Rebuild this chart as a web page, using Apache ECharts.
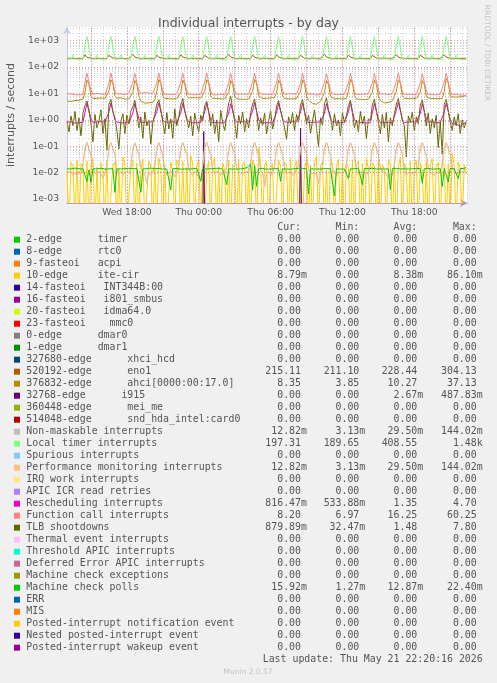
<!DOCTYPE html>
<html><head><meta charset="utf-8">
<script src="https://cdn.jsdelivr.net/npm/echarts@6/dist/echarts.min.js"></script>
<style>html,body{margin:0;padding:0;background:#f0f0f0;}#c{width:497px;height:683px;}</style>
</head><body><div id="c"></div>
<script>
// ---- time base: samples every 10 minutes from Wed 13:00 (hours since Wed 00:00)
const START_HOUR = 13;
const STEP_HOUR = 1 / 6;
const xTickHours = [18, 24, 30, 36, 42];
const xTickLabels = ['Wed 18:00', 'Thu 00:00', 'Thu 06:00', 'Thu 12:00', 'Thu 18:00'];

// ---- series values (per sample)
const localTimer = [
200,198,201,290,199,202,200,197,201,680,1430,1410,
206,200,199,286,201,198,202,199,200,700,1450,1400,
204,199,201,288,200,197,201,200,198,650,1440,1420,
205,200,198,282,199,201,200,202,199,710,1470,1430,
203,201,199,290,200,198,201,199,200,690,1450,1410,
206,199,200,285,201,200,198,201,199,700,1460,1420,
204,200,201,287,199,202,200,198,201,680,1440,1400,
205,198,200,291,200,199,201,200,198,720,1480,1430,
203,201,199,284,202,200,199,201,200,690,1450,1410,
206,199,201,288,200,198,200,199,202,700,1460,1420,
204,200,198,286,201,200,202,200,199,670,1440,1400,
205,201,200,289,199,201,198,201,200,710,1470,1430,
203,199,201,283,200,199,201,200,198,690,1450,1410,
206,200,199,290,201,202,200,199,201,700,1460,1420,
204,198,200,285,199,200,201,200,199,680,1440,1400,
205,201,199,288,200,198,200,202,200,720,1470,1425,
204,199,200,286,201,199,197,198,197.3];

const eno1 = [
214,213,216,218,213,215,214,213,215,288,236,221,
216,214,213,219,215,213,214,216,213,278,240,220,
215,213,214,217,213,214,215,213,214,300,238,222,
214,215,213,218,214,213,216,214,213,282,236,219,
216,213,214,219,215,214,213,215,214,290,241,221,
215,214,213,217,213,215,214,213,216,276,235,220,
214,213,215,218,214,213,215,214,213,295,239,222,
216,215,213,219,213,214,213,216,214,284,237,220,
215,213,214,217,215,213,214,213,215,292,240,221,
214,214,213,218,213,215,216,214,213,280,236,219,
216,213,215,219,214,213,214,215,214,304,241,222,
215,214,213,217,213,214,215,213,216,286,238,220,
214,213,214,218,215,213,214,216,213,278,235,221,
216,215,213,219,213,214,213,214,215,294,240,222,
215,213,214,217,214,215,216,213,214,282,237,220,
214,214,213,218,213,213,214,215,213,290,239,221,
215,213,214,217,214,213,215,214,215.1];

const ahci = [
5.2,5.6,5.0,5.8,5.4,6.0,5.5,5.9,6.2,11,32,23,
8.0,6.4,6.0,6.6,6.2,6.8,6.1,6.5,6.3,12,33,24,
8.2,6.6,6.2,6.9,6.4,6.1,6.7,6.3,6.5,11,31,22,
7.8,5.2,4.6,4.3,4.8,4.4,5.0,4.6,5.8,12,34,24,
8.1,6.5,6.9,6.3,6.7,6.2,6.8,6.4,6.6,11,32,23,
8.3,6.8,6.4,7.0,6.5,6.9,6.3,6.7,6.4,12,33,25,
8.0,6.6,7.1,6.5,6.9,6.3,6.8,6.2,6.7,11,31,22,
7.9,6.3,6.7,6.1,6.6,6.0,6.5,6.2,6.4,12,34,24,
8.2,6.9,6.4,7.0,6.6,7.2,6.8,6.5,6.9,11,32,23,
8.1,6.4,6.8,6.2,6.7,6.3,6.9,6.5,6.6,12,33,24,
8.0,5.6,4.8,4.2,4.5,3.9,4.6,5.2,6.0,11,31,22,
7.8,6.7,6.3,6.9,6.4,6.8,6.2,6.6,6.5,12,34,25,
8.3,6.2,6.6,6.0,6.5,5.9,6.4,6.1,6.3,11,32,23,
8.0,5.4,4.9,4.4,4.1,4.5,4.8,5.3,6.1,12,33,24,
8.2,6.5,6.9,6.3,6.8,6.4,7.0,6.6,6.7,11,31,22,
7.9,6.8,6.4,7.0,6.5,6.9,6.3,6.7,6.6,12,37,25,
8.1,6.9,7.2,6.8,7.4,7.1,7.6,7.9,8.35];

const funcCall = [
9.4,9.1,9.8,10.2,9.0,9.6,8.8,9.5,9.2,26,58,50,
13,9.6,9.3,10.0,9.1,9.7,9.4,8.9,9.6,24,60,52,
12,9.8,10.4,9.6,10.1,9.2,9.9,10.3,9.5,27,57,49,
13,10.2,9.6,10.8,9.9,10.5,9.7,10.1,9.4,25,59,51,
12,9.5,9.9,9.2,9.7,9.0,9.4,9.8,9.1,26,58,50,
13,9.3,9.7,9.1,9.5,8.9,9.6,9.2,9.8,28,60,53,
12,9.0,9.4,8.8,9.2,9.6,9.1,8.7,9.3,25,57,48,
13,9.2,9.8,9.4,9.0,9.5,8.9,9.3,9.7,27,59,51,
12,9.6,9.1,9.5,8.9,9.3,9.7,9.0,9.4,26,58,50,
13,9.1,9.5,9.8,9.2,9.6,9.0,9.4,9.9,24,60,52,
12,9.4,9.0,9.6,9.3,8.8,9.5,9.1,9.7,27,57,49,
13,9.7,9.3,9.0,9.6,9.2,9.8,9.4,9.1,25,59,51,
12,9.2,9.6,9.3,8.9,9.5,9.1,9.7,9.2,26,58,50,
13,9.5,9.1,9.7,9.3,9.0,9.4,9.8,9.3,28,60,52,
12,9.3,9.7,9.2,9.6,9.1,9.5,8.9,9.4,25,57,49,
13,9.0,9.4,9.1,9.5,8.8,9.2,9.6,9.0,27,59,51,
12,9.2,8.9,9.4,9.0,8.6,9.1,8.7,8.2];

const resched = [
0.82,0.78,0.85,0.80,0.76,0.84,0.79,0.83,0.81,1.9,4.2,4.0,
1.1,0.80,0.77,0.84,0.79,0.86,0.78,0.82,0.80,2.0,4.3,4.1,
1.0,0.83,0.79,0.76,0.82,0.78,0.85,0.80,0.77,1.8,4.1,3.9,
1.1,0.79,0.84,0.81,0.77,0.83,0.78,0.86,0.80,2.1,4.4,4.2,
1.0,0.81,0.76,0.83,0.79,0.85,0.80,0.78,0.82,1.9,4.2,4.0,
1.1,0.84,0.80,0.77,0.83,0.79,0.86,0.81,0.78,2.0,4.3,4.1,
1.0,0.78,0.83,0.80,0.85,0.77,0.82,0.79,0.84,1.8,4.1,3.9,
1.1,0.82,0.79,0.86,0.80,0.84,0.78,0.83,0.81,2.2,4.5,4.3,
1.0,0.80,0.85,0.78,0.82,0.79,0.84,0.77,0.83,1.9,4.2,4.0,
1.1,0.83,0.77,0.81,0.79,0.86,0.80,0.84,0.78,2.0,4.3,4.1,
1.0,0.79,0.84,0.80,0.76,0.82,0.78,0.85,0.81,1.8,4.1,3.9,
1.1,0.81,0.78,0.83,0.80,0.77,0.84,0.79,0.82,2.1,4.4,4.2,
1.0,0.84,0.80,0.86,0.79,0.83,0.77,0.81,0.78,1.9,4.2,4.0,
1.1,0.78,0.82,0.79,0.84,0.80,0.85,0.78,0.83,2.3,4.7,4.5,
1.0,0.80,0.76,0.82,0.78,0.84,0.79,0.83,0.80,1.8,4.1,3.9,
1.1,0.82,0.79,0.85,0.81,0.78,0.83,0.80,0.84,2.0,4.3,4.1,
1.0,0.72,0.65,0.70,0.62,0.55,0.66,0.60,0.82];

const tlb = [
0.9,0.35,1.4,0.6,2.1,0.4,1.2,0.25,1.8,3.5,5.2,2.4,
0.7,0.15,1.6,0.5,0.9,2.4,0.3,1.1,0.07,3.8,6.0,2.0,
1.2,0.4,0.08,0.9,1.7,0.3,1.5,0.7,2.2,3.2,5.5,1.8,
0.5,1.3,0.2,2.0,0.6,1.0,0.12,0.8,1.6,4.0,5.8,2.5,
0.8,0.3,1.9,0.45,1.1,0.2,2.6,0.6,1.3,3.6,6.5,2.2,
1.0,0.5,1.4,0.25,1.8,0.7,0.35,1.5,0.9,3.4,5.0,1.9,
0.6,1.7,0.3,1.0,0.15,2.3,0.8,0.4,1.4,4.2,7.8,2.6,
0.9,0.2,1.5,0.7,2.0,0.35,1.1,0.5,1.9,3.9,6.2,2.1,
0.4,1.2,0.6,1.8,0.3,0.9,2.2,0.45,1.0,3.3,5.4,2.3,
1.1,0.5,0.18,1.3,0.7,1.9,0.4,1.6,0.8,3.7,5.9,2.0,
0.7,1.5,0.3,0.9,2.4,0.5,0.1,1.2,0.6,4.1,6.8,2.4,
1.3,0.4,1.7,0.6,1.0,0.25,1.8,0.8,1.4,3.5,5.6,1.8,
0.5,1.0,0.35,2.1,0.7,1.4,0.2,1.1,0.9,3.8,6.1,2.2,
0.8,0.3,1.6,0.5,1.9,0.15,1.2,0.6,1.7,4.0,6.4,2.5,
1.0,0.6,0.04,1.4,0.8,2.0,0.4,1.3,0.7,3.6,5.7,2.1,
0.6,1.8,0.3,1.1,0.5,1.5,0.09,0.9,0.05,3.9,6.0,2.3,
0.8,0.4,1.3,0.6,1.7,0.3,1.0,0.5,0.88];

const perfMon = [
0.010,0.009,0.011,0.008,0.010,0.007,0.011,0.009,0.018,0.085,0.140,0.125,
0.045,0.014,0.010,0.008,0.011,0.009,0.006,0.010,0.019,0.090,0.138,0.130,
0.048,0.013,0.009,0.011,0.008,0.010,0.012,0.009,0.017,0.080,0.135,0.120,
0.050,0.015,0.011,0.009,0.004,0.010,0.008,0.011,0.020,0.088,0.142,0.128,
0.046,0.012,0.008,0.010,0.009,0.011,0.007,0.010,0.018,0.086,0.139,0.126,
0.049,0.014,0.010,0.008,0.011,0.009,0.010,0.005,0.019,0.092,0.144,0.131,
0.047,0.013,0.009,0.011,0.010,0.008,0.011,0.009,0.017,0.083,0.136,0.122,
0.051,0.015,0.011,0.009,0.008,0.010,0.009,0.011,0.020,0.089,0.141,0.127,
0.045,0.012,0.010,0.003,0.009,0.011,0.008,0.010,0.018,0.087,0.139,0.125,
0.048,0.014,0.009,0.010,0.011,0.008,0.010,0.009,0.019,0.084,0.137,0.124,
0.050,0.013,0.011,0.009,0.010,0.009,0.004,0.010,0.017,0.090,0.143,0.129,
0.046,0.015,0.010,0.008,0.011,0.010,0.009,0.011,0.020,0.086,0.138,0.126,
0.049,0.012,0.009,0.011,0.008,0.010,0.011,0.009,0.018,0.088,0.140,0.128,
0.047,0.014,0.011,0.010,0.009,0.006,0.010,0.008,0.019,0.085,0.136,0.123,
0.051,0.013,0.008,0.010,0.011,0.009,0.010,0.011,0.017,0.091,0.142,0.130,
0.045,0.015,0.010,0.009,0.008,0.011,0.009,0.010,0.018,0.087,0.139,0.125,
0.048,0.014,0.011,0.009,0.010,0.012,0.010,0.011,0.0128];
const nmi = perfMon; // identical readings (Cur/Min/Avg/Max match)

const mcPolls = [
.0140,.0145,.0138,.0142,.0150,.0136,.0141,.0147,.0139,.0133,.0047,.0128,
.0042,.0138,.0146,.0140,.0135,.0148,.0141,.0137,.0144,.0139,.0136,.0143,
.0018,.0140,.0145,.0138,.0150,.0142,.0136,.0147,.0139,.0141,.0137,.0144,
.0140,.0018,.0139,.0146,.0141,.0135,.0149,.0138,.0142,.0137,.0145,.0140,
.0136,.0143,.0139,.0147,.0022,.0141,.0138,.0145,.0140,.0136,.0144,.0139,
.0142,.0137,.0146,.0140,.0135,.0148,.0141,.0047,.0139,.0144,.0138,.0143,
.0140,.0136,.0145,.0139,.0147,.0141,.0137,.0143,.0035,.0140,.0146,.0138,
.0142,.0137,.0148,.0140,.0136,.0145,.0139,.0170,.0224,.0022,.0190,.0030,
.0141,.0138,.0146,.0140,.0135,.0144,.0139,.0147,.0141,.0137,.0143,.0047,
.0140,.0146,.0138,.0142,.0136,.0149,.0141,.0137,.0145,.0139,.0143,.0138,
.0141,.0016,.0140,.0146,.0138,.0143,.0137,.0145,.0140,.0136,.0144,.0139,
.0142,.0137,.0013,.0140,.0146,.0138,.0143,.0137,.0145,.0060,.0139,.0144,
.0141,.0138,.0147,.0140,.0035,.0145,.0139,.0143,.0137,.0146,.0140,.0138,
.0144,.0139,.0141,.0137,.0145,.0140,.0022,.0143,.0139,.0146,.0140,.0138,
.0145,.0139,.0142,.0137,.0146,.0141,.0136,.0144,.0139,.0143,.0040,.0142,
.0138,.0145,.0140,.0136,.0143,.0139,.0146,.0141,.0030,.0145,.0140,.0045,
.0144,.0139,.0141,.0137,.0060,.0142,.0138,.0146,.0159];

const iteCir = [
0.012,0,0.025,0.018,0,0.03,0,0.022,0.015,0,0.028,0,0.02,0.035,0,0.016,0,0.024,0.011,0,
0.03,0,0,0.019,0.026,0,0.014,0,0.04,0.021,0,0,0.017,0.029,0,0.023,0,0.013,0.033,0,
0,0.027,0.018,0,0.022,0,0.036,0.015,0,0.02,0,0,0.025,0.012,0,0.031,0.019,0,0.028,0,
0.016,0,0.045,0.022,0,0.018,0.03,0,0.024,0,0.014,0.027,0,0.02,0.038,0,0.017,0,0.023,0.012,
0,0.029,0,0.02,0.016,0,0.033,0,0.021,0.026,0,0.015,0,0.03,0.019,0,0.086,0.024,0,0.018,
0.027,0,0.013,0.022,0,0,0.031,0.017,0,0.025,0.02,0,0.035,0,0.016,0.028,0,0.021,0,0.014,
0.03,0,0.019,0,0.024,0.042,0,0.018,0.026,0,0.013,0,0.029,0.022,0,0.017,0.033,0,0.02,0,
0.025,0.015,0,0.031,0,0.019,0.027,0,0.022,0,0.036,0.014,0,0.024,0.018,0,0.029,0,0.021,0.013,
0,0.032,0.02,0,0.026,0,0.017,0.038,0,0.023,0.015,0,0.028,0,0.019,0.03,0,0.024,0.012,0,
0.027,0,0.02,0.034,0,0.016,0.025,0,0.03,0.018,0,0.022,0,0.055,0.017,0,0.026,0.014,0,0.02,0.0088];

// i915: [hour, value] readings around its only two bursts (zero elsewhere)
const i915 = [[13,0],[24.333,0],[24.417,0.36],[24.5,0],[32.417,0],[32.5,0.488],[32.583,0],[46.333,0]];

// ---- legend table
const legendLabels = [
'2-edge      timer','8-edge      rtc0','9-fasteoi   acpi','10-edge     ite-cir',
'14-fasteoi   INT344B:00','16-fasteoi   i801_smbus','20-fasteoi   idma64.0','23-fasteoi    mmc0',
'0-edge      dmar0','1-edge      dmar1','327680-edge      xhci_hcd','520192-edge      eno1',
'376832-edge      ahci[0000:00:17.0]','32768-edge      i915','360448-edge      mei_me',
'514048-edge      snd_hda_intel:card0','Non-maskable interrupts','Local timer interrupts',
'Spurious interrupts','Performance monitoring interrupts','IRQ work interrupts',
'APIC ICR read retries','Rescheduling interrupts','Function call interrupts','TLB shootdowns',
'Thermal event interrupts','Threshold APIC interrupts','Deferred Error APIC interrupts',
'Machine check exceptions','Machine check polls','ERR','MIS',
'Posted-interrupt notification event','Nested posted-interrupt event','Posted-interrupt wakeup event'];
const legendColors = [
'#00CC00','#0066B3','#FF8000','#FFCC00','#330099','#990099','#CCFF00','#FF0000',
'#808080','#008F00','#00487D','#B35A00','#B38F00','#6B006B','#8FB300','#B30000',
'#BEBEBE','#80FF80','#80C9FF','#FFC080','#FFE680','#AA80FF','#EE00CC','#FF8080',
'#666600','#FFBFFF','#00FFCC','#CC6699','#999900','#00CC00','#0066B3','#FF8000',
'#FFCC00','#330099','#990099'];
const Z = '0.00';
const curVals = [Z,Z,Z,'8.79m',Z,Z,Z,Z,Z,Z,Z,'215.11','8.35',Z,Z,Z,'12.82m','197.31',Z,'12.82m',Z,Z,'816.47m','8.20','879.89m',Z,Z,Z,Z,'15.92m',Z,Z,Z,Z,Z];
const minVals = [Z,Z,Z,Z,Z,Z,Z,Z,Z,Z,Z,'211.10','3.85',Z,Z,Z,'3.13m','189.65',Z,'3.13m',Z,Z,'533.88m','6.97','32.47m',Z,Z,Z,Z,'1.27m',Z,Z,Z,Z,Z];
const avgVals = [Z,Z,Z,'8.38m',Z,Z,Z,Z,Z,Z,Z,'228.44','10.27','2.67m',Z,Z,'29.50m','408.55',Z,'29.50m',Z,Z,'1.35','16.25','1.48',Z,Z,Z,Z,'12.87m',Z,Z,Z,Z,Z];
const maxVals = [Z,Z,Z,'86.10m',Z,Z,Z,Z,Z,Z,Z,'304.13','37.13','487.83m',Z,Z,'144.02m','1.48k',Z,'144.02m',Z,Z,'4.70','60.25','7.80',Z,Z,Z,Z,'22.40m',Z,Z,Z,Z,Z];
const colHeaders = ['Cur:','Min:','Avg:','Max:'];
const lastUpdate = 'Last update: Thu May 21 22:20:16 2026';

// ---- chart
const FLOOR = 1e-4; // zero readings fall below the log axis and get clipped
const Y_MIN = 7.1e-4, Y_MAX = 3304;
const X_MIN = 13, X_MAX = 46.4;

function toPoints(vals) {
  return vals.map((v, i) => [START_HOUR + i * STEP_HOUR, v > 0 ? v : FLOOR]);
}
function toPairs(pairs) { return pairs.map(p => [p[0], p[1] > 0 ? p[1] : FLOOR]); }

const plotted = [
  { color: '#FFCC00', data: toPoints(iteCir) },
  { color: '#B35A00', data: toPoints(eno1) },
  { color: '#B38F00', data: toPoints(ahci) },
  { color: '#6B006B', data: toPairs(i915) },
  { color: '#BEBEBE', data: toPoints(nmi) },
  { color: '#80FF80', data: toPoints(localTimer) },
  { color: '#FFC080', data: toPoints(perfMon) },
  { color: '#EE00CC', data: toPoints(resched) },
  { color: '#FF8080', data: toPoints(funcCall) },
  { color: '#666600', data: toPoints(tlb) },
  { color: '#00CC00', data: toPoints(mcPolls) }
];

// grid lines (rrdtool style)
const gridLines = [];
for (let k = -4; k <= 3; k++) {
  for (let m = 1; m <= 9; m++) {
    const v = m * Math.pow(10, k);
    if (v < Y_MIN || v > Y_MAX) continue;
    gridLines.push({ yAxis: v, lineStyle: m === 1 ? { color: 'rgba(222,120,120,0.75)' } : { color: 'rgba(170,170,170,0.55)' } });
  }
}
for (let h = 15; h < X_MAX; h += 3) {
  gridLines.push({ xAxis: h, lineStyle: { color: 'rgba(222,120,120,0.75)' } });
}

function fmtExp(v) {
  const l = Math.log10(v), e = Math.round(l);
  if (Math.abs(l - e) > 1e-6) return '';
  return '1e' + (e < 0 ? '-' : '+') + String(Math.abs(e)).padStart(2, '0');
}

const MONO = '9.9px "DejaVu Sans Mono"';
const graphics = [];
const ROW0 = 239.7, ROWH = 12;
const colRight = [301, 359.3, 417.3, 476.7];
const CW = 5.96;
colHeaders.forEach((h, c) => graphics.push({ type: 'text', x: colRight[c], y: 227.7, silent: true,
  style: { text: h, font: MONO, fill: '#555', align: 'right', verticalAlign: 'middle' } }));
legendLabels.forEach((lab, r) => {
  const y = ROW0 + r * ROWH;
  graphics.push({ type: 'rect', silent: true, shape: { x: 14, y: y - 3, width: 6, height: 6 }, style: { fill: legendColors[r] } });
  graphics.push({ type: 'text', x: 26.3, y: y, silent: true, style: { text: lab, font: MONO, fill: '#555', align: 'left', verticalAlign: 'middle' } });
  [curVals, minVals, avgVals, maxVals].forEach((arr, c) => {
    const s = arr[r];
    const hasSuffix = /[mk]$/.test(s);
    graphics.push({ type: 'text', x: colRight[c] + (hasSuffix ? CW : 0), y: y, silent: true,
      style: { text: s, font: MONO, fill: '#555', align: 'right', verticalAlign: 'middle' } });
  });
});
graphics.push({ type: 'text', x: 482.7, y: 659.7, silent: true, style: { text: lastUpdate, font: MONO, fill: '#555', align: 'right', verticalAlign: 'middle' } });
graphics.push({ type: 'text', x: 248, y: 671.7, silent: true, style: { text: 'Munin 2.0.57', font: '7.5px "DejaVu Sans"', fill: '#c4c4c4', align: 'center', verticalAlign: 'middle' } });
graphics.push({ type: 'text', x: 487, y: 53, rotation: -Math.PI / 2, silent: true, style: { text: 'RRDTOOL / TOBI OETIKER', font: '7.5px "DejaVu Sans"', fill: '#c4c4c4', align: 'center', verticalAlign: 'middle' } });

const chart = echarts.init(document.getElementById('c'), null, { renderer: 'canvas' });
chart.setOption({
  animation: false,
  backgroundColor: '#f0f0f0',
  title: { text: 'Individual interrupts - by day', left: 'center', top: 12,
    textStyle: { fontFamily: 'DejaVu Sans', fontSize: 12.5, fontWeight: 'normal', color: '#555' } },
  grid: { left: 67, right: 30, top: 27, bottom: 480, show: true, backgroundColor: '#ffffff', borderWidth: 0, containLabel: false, outerBoundsMode: 'none' },
  xAxis: {
    type: 'value', min: X_MIN, max: X_MAX, interval: 1,
    axisLine: { show: true, onZero: false, lineStyle: { color: '#b48ad6', width: 1 }, symbol: ['none', 'arrow'], symbolSize: [6, 7] },
    axisTick: { show: false },
    splitLine: { show: true, lineStyle: { color: 'rgba(170,170,170,0.55)', type: [1, 2], width: 1 } },
    axisLabel: { margin: 5, fontFamily: 'DejaVu Sans', fontSize: 9.2, color: '#555',
      formatter: v => { const k = xTickHours.indexOf(Math.round(v * 1000) / 1000); return k >= 0 ? xTickLabels[k] : ''; } }
  },
  yAxis: {
    type: 'log', logBase: 10, min: Y_MIN, max: Y_MAX,
    name: 'interrupts / second', nameLocation: 'middle', nameGap: 50,
    nameTextStyle: { fontFamily: 'DejaVu Sans', fontSize: 11, color: '#555' },
    axisLine: { show: true, lineStyle: { color: '#c4cdf2', width: 1 }, symbol: ['none', 'arrow'], symbolSize: [6, 7] },
    axisTick: { show: false },
    splitLine: { show: false },
    minorTick: { show: false }, minorSplitLine: { show: false },
    axisLabel: { margin: 8, fontFamily: 'DejaVu Sans', fontSize: 9.2, color: '#555', formatter: fmtExp, showMinLabel: true, showMaxLabel: true }
  },
  graphic: { elements: graphics },
  series: [
    { type: 'line', data: [], silent: true, z: 1,
      markLine: { silent: true, symbol: 'none', animation: false, label: { show: false },
        lineStyle: { width: 1, type: [1, 2] }, emphasis: { disabled: true }, data: gridLines } }
  ].concat(plotted.map(p => ({
    type: 'line', data: p.data, showSymbol: false, symbol: 'none', silent: true, z: 2, clip: true,
    lineStyle: { color: p.color, width: 1 }, itemStyle: { color: p.color }, emphasis: { disabled: true }
  })))
});
</script></body></html>
